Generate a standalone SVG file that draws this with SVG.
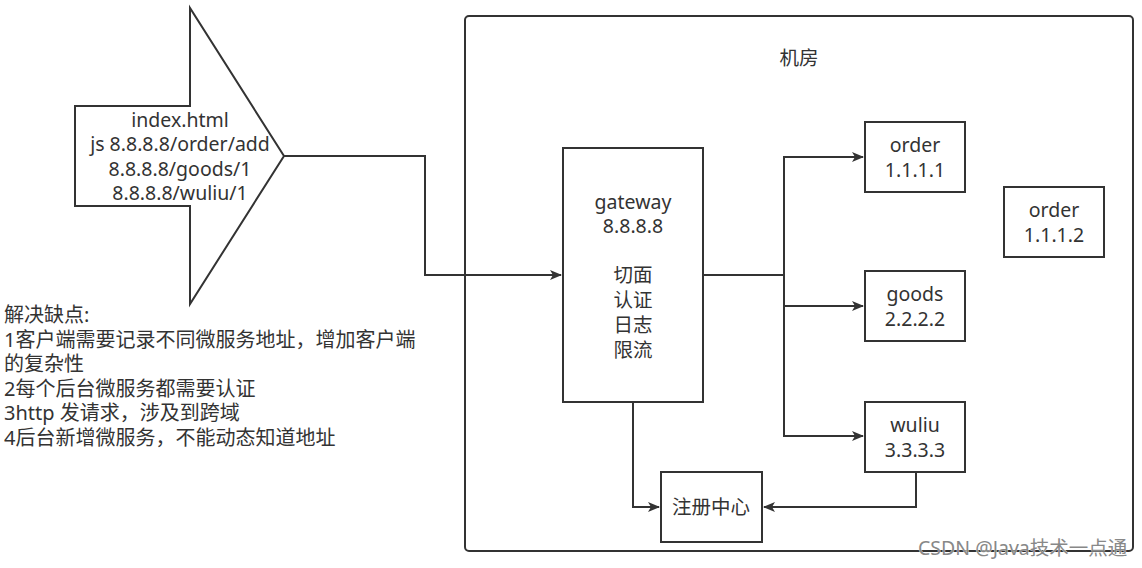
<svg xmlns="http://www.w3.org/2000/svg" width="1142" height="568" viewBox="0 0 1142 568">
<style>
.box{fill:#fff;stroke:#333;stroke-width:2}
.edge{fill:none;stroke:#333;stroke-width:2}
.t{font-family:"Noto Sans","Noto Sans CJK SC",sans-serif;font-size:19.5px;fill:#333;text-anchor:middle}
.l{font-family:"Noto Sans","Noto Sans CJK SC",sans-serif;font-size:20px;fill:#333}
.wm{font-family:"Noto Sans","Noto Sans CJK SC",sans-serif;font-size:19.5px;fill:#888;stroke:#fff;stroke-width:0.6;paint-order:stroke}
</style>
<defs>
<marker id="arr" markerWidth="12" markerHeight="10" refX="11" refY="5" orient="auto" markerUnits="userSpaceOnUse">
<path d="M0,0 L12,5 L0,10 L3,5 Z" fill="#333"/>
</marker>
</defs>
<rect width="1142" height="568" fill="#fff"/>
<g id="room">
<rect x="465" y="16" width="668" height="535" rx="4" class="box"/>
<text x="799" y="65" class="t">机房</text>
</g>
<g id="client">
<path d="M75,106 H190 V8 L284,156 L190,304 V206 H75 Z" class="box"/>
<text class="t"><tspan x="180" y="127">index.html</tspan><tspan x="180" y="151">js 8.8.8.8/order/add</tspan><tspan x="180" y="176">8.8.8.8/goods/1</tspan><tspan x="180" y="200">8.8.8.8/wuliu/1</tspan></text>
</g>
<g id="notes">
<text class="l"><tspan x="4" y="322">解决缺点:</tspan><tspan x="4" y="347">1客户端需要记录不同微服务地址，增加客户端</tspan><tspan x="4" y="371">的复杂性</tspan><tspan x="4" y="396">2每个后台微服务都需要认证</tspan><tspan x="4" y="420">3http 发请求，涉及到跨域</tspan><tspan x="4" y="445">4后台新增微服务，不能动态知道地址</tspan></text>
</g>
<g id="connectors">
<path d="M284,156 H425 V275 H561" class="edge" marker-end="url(#arr)"/>
<path d="M703,275 H784 V157 H863" class="edge" marker-end="url(#arr)"/>
<path d="M784,275 V306 H863" class="edge" marker-end="url(#arr)"/>
<path d="M784,300 V436 H863" class="edge" marker-end="url(#arr)"/>
<path d="M633,402 V507 H659" class="edge" marker-end="url(#arr)"/>
<path d="M916,472 V507 H764" class="edge" marker-end="url(#arr)"/>
</g>
<g id="gateway">
<rect x="563" y="148" width="140" height="254" class="box"/>
<text class="t"><tspan x="633" y="209">gateway</tspan><tspan x="633" y="233">8.8.8.8</tspan><tspan x="633" y="282">切面</tspan><tspan x="633" y="307">认证</tspan><tspan x="633" y="332">日志</tspan><tspan x="633" y="357">限流</tspan></text>
</g>
<g id="order1">
<rect x="865" y="122" width="100" height="70" class="box"/>
<text class="t"><tspan x="915" y="152">order</tspan><tspan x="915" y="177">1.1.1.1</tspan></text>
</g>
<g id="order2">
<rect x="1004" y="187" width="100" height="70" class="box"/>
<text class="t"><tspan x="1054" y="217">order</tspan><tspan x="1054" y="242">1.1.1.2</tspan></text>
</g>
<g id="goods">
<rect x="865" y="271" width="100" height="70" class="box"/>
<text class="t"><tspan x="915" y="301">goods</tspan><tspan x="915" y="326">2.2.2.2</tspan></text>
</g>
<g id="wuliu">
<rect x="865" y="402" width="100" height="70" class="box"/>
<text class="t"><tspan x="915" y="432">wuliu</tspan><tspan x="915" y="457">3.3.3.3</tspan></text>
</g>
<g id="registry">
<rect x="661" y="472" width="101" height="70" class="box"/>
<text x="711" y="514" class="t">注册中心</text>
</g>
<text x="918" y="555" class="wm">CSDN @Java技术一点通</text>
</svg>
